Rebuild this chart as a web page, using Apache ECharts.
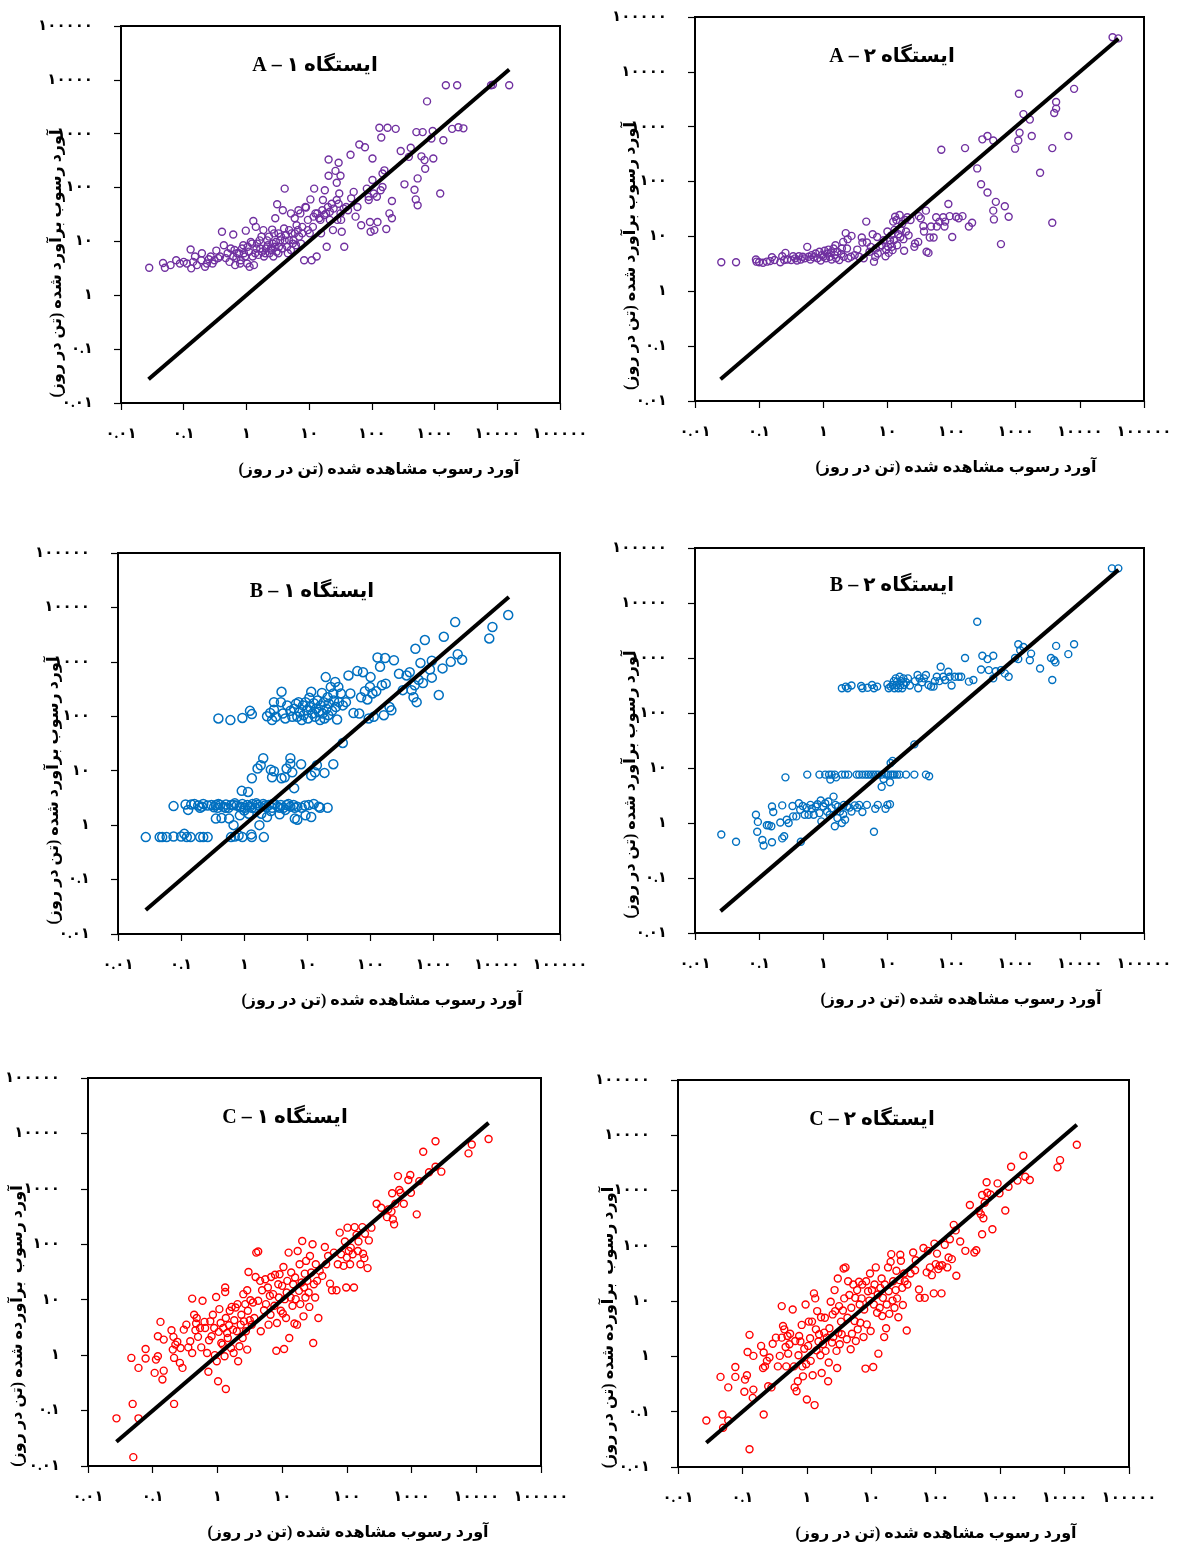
<!DOCTYPE html>
<html>
<head>
<meta charset="utf-8">
<script src="https://cdn.jsdelivr.net/npm/echarts@6/dist/echarts.min.js"></script>
<style>
  body { margin: 0; background: #fff; }
  #chart { width: 1178px; height: 1555px; }
</style>
</head>
<body>
<div id="chart"></div>
<script>
var a1Log = [[-1.55,0.51],[-1.33,0.60],[-1.30,0.51],[-1.21,0.56],[-1.12,0.65],[-1.06,0.59],[-1.00,0.62],[-0.95,0.59],[-0.89,0.85],[-0.88,0.50],[-0.85,0.62],[-0.82,0.72],[-0.79,0.56],[-0.72,0.65],[-0.71,0.78],[-0.66,0.53],[-0.63,0.59],[-0.60,0.67],[-0.57,0.72],[-0.54,0.59],[-0.51,0.65],[-0.48,0.83],[-0.45,0.69],[-0.42,0.72],[-0.39,1.18],[-0.36,0.93],[-0.33,0.69],[-0.30,0.78],[-0.27,0.62],[-0.25,0.87],[-0.21,1.13],[-0.21,0.72],[-0.19,0.84],[-0.18,0.56],[-0.16,0.69],[-0.15,0.78],[-0.12,0.78],[-0.10,0.59],[-0.09,0.65],[-0.07,0.87],[-0.05,0.93],[-0.04,0.78],[-0.02,0.72],[-0.01,1.20],[0.01,0.59],[0.02,0.90],[0.04,0.81],[0.05,0.53],[0.07,0.99],[0.09,0.96],[0.10,0.72],[0.11,1.38],[0.12,0.56],[0.14,0.78],[0.15,1.27],[0.16,0.87],[0.17,0.96],[0.19,0.75],[0.21,1.02],[0.22,0.87],[0.24,1.09],[0.25,0.81],[0.27,1.21],[0.28,0.72],[0.30,0.78],[0.31,0.87],[0.33,1.02],[0.34,0.93],[0.36,1.09],[0.37,0.78],[0.39,0.87],[0.40,0.84],[0.41,1.22],[0.42,0.96],[0.43,0.72],[0.44,1.15],[0.45,0.90],[0.46,1.43],[0.47,0.99],[0.48,0.81],[0.49,1.69],[0.51,1.15],[0.51,0.78],[0.52,0.90],[0.54,1.02],[0.55,1.09],[0.57,0.87],[0.58,1.58],[0.60,1.24],[0.61,1.98],[0.61,1.02],[0.63,1.12],[0.65,0.90],[0.66,0.78],[0.68,1.02],[0.68,1.21],[0.71,1.52],[0.71,0.84],[0.72,1.15],[0.74,0.96],[0.75,1.02],[0.77,1.43],[0.77,1.15],[0.79,0.93],[0.80,1.30],[0.82,1.21],[0.83,1.58],[0.84,1.09],[0.86,1.52],[0.87,0.96],[0.89,1.15],[0.89,1.27],[0.92,0.65],[0.94,1.64],[0.95,1.63],[0.98,1.21],[0.98,1.40],[1.01,1.15],[1.02,1.78],[1.04,0.65],[1.06,1.27],[1.07,1.46],[1.08,1.98],[1.10,1.52],[1.12,0.72],[1.13,1.52],[1.16,1.43],[1.18,1.40],[1.19,1.15],[1.21,1.58],[1.22,1.77],[1.24,1.49],[1.25,1.95],[1.27,1.52],[1.28,0.90],[1.30,1.64],[1.31,2.52],[1.31,2.22],[1.33,1.40],[1.33,1.55],[1.36,1.70],[1.38,1.21],[1.39,1.61],[1.42,2.31],[1.44,2.09],[1.44,1.77],[1.45,1.40],[1.47,1.70],[1.47,2.46],[1.48,1.89],[1.50,2.22],[1.50,1.52],[1.51,1.40],[1.52,1.18],[1.55,1.61],[1.56,0.90],[1.59,1.64],[1.62,1.58],[1.66,2.61],[1.67,1.80],[1.71,1.92],[1.74,1.46],[1.77,1.64],[1.80,2.80],[1.83,1.30],[1.89,2.75],[1.92,1.98],[1.95,1.77],[1.95,1.83],[1.97,1.36],[1.98,1.18],[2.01,2.54],[2.01,2.14],[2.03,1.89],[2.04,1.21],[2.08,1.83],[2.09,1.36],[2.12,3.11],[2.14,1.95],[2.15,2.93],[2.17,2.01],[2.17,2.26],[2.20,2.32],[2.23,1.23],[2.25,3.11],[2.28,1.52],[2.32,1.75],[2.32,1.43],[2.38,3.09],[2.46,2.68],[2.52,2.06],[2.59,2.57],[2.62,2.74],[2.68,1.96],[2.70,1.78],[2.71,3.03],[2.73,2.17],[2.73,1.67],[2.79,2.58],[2.81,3.03],[2.84,2.51],[2.85,2.35],[2.88,3.60],[2.95,2.91],[2.97,3.05],[2.98,2.54],[3.09,1.89],[3.14,2.88],[3.18,3.90],[3.28,3.09],[3.36,3.90],[3.38,3.12],[3.46,3.10],[3.90,3.90],[3.93,3.91],[4.19,3.90]];

var a2Log = [[-1.59,0.53],[-1.36,0.53],[-1.05,0.58],[-1.04,0.54],[-1.00,0.53],[-0.94,0.52],[-0.88,0.54],[-0.83,0.55],[-0.80,0.62],[-0.76,0.57],[-0.67,0.53],[-0.64,0.64],[-0.61,0.57],[-0.59,0.70],[-0.56,0.58],[-0.50,0.57],[-0.47,0.64],[-0.44,0.60],[-0.41,0.56],[-0.38,0.64],[-0.35,0.58],[-0.32,0.63],[-0.29,0.60],[-0.25,0.81],[-0.23,0.63],[-0.20,0.58],[-0.18,0.66],[-0.15,0.62],[-0.12,0.69],[-0.09,0.60],[-0.06,0.72],[-0.04,0.56],[-0.02,0.66],[0.00,0.63],[0.02,0.74],[0.04,0.60],[0.06,0.69],[0.08,0.76],[0.10,0.63],[0.12,0.71],[0.13,0.58],[0.16,0.78],[0.18,0.66],[0.19,0.84],[0.20,0.60],[0.22,0.72],[0.25,0.57],[0.28,0.68],[0.29,0.78],[0.31,0.90],[0.32,0.63],[0.35,1.06],[0.37,0.78],[0.38,0.95],[0.39,0.60],[0.43,0.63],[0.44,1.01],[0.49,0.66],[0.53,0.76],[0.56,0.63],[0.60,0.98],[0.61,0.89],[0.63,0.60],[0.67,1.27],[0.68,0.89],[0.72,0.72],[0.74,0.81],[0.77,1.04],[0.79,0.54],[0.81,0.63],[0.82,0.78],[0.84,0.99],[0.85,0.69],[0.88,0.81],[0.91,0.84],[0.94,0.93],[0.97,0.64],[0.98,0.76],[1.00,1.09],[1.01,0.81],[1.02,0.70],[1.04,0.93],[1.05,0.86],[1.06,1.02],[1.07,0.81],[1.08,0.75],[1.09,1.27],[1.10,0.93],[1.11,1.12],[1.12,1.36],[1.14,1.30],[1.15,0.84],[1.17,1.04],[1.19,1.39],[1.20,0.99],[1.21,1.12],[1.23,1.23],[1.25,0.95],[1.26,0.74],[1.28,1.30],[1.29,1.09],[1.31,1.35],[1.33,1.02],[1.36,1.30],[1.42,0.81],[1.43,0.87],[1.48,0.90],[1.49,1.37],[1.52,1.33],[1.56,1.19],[1.57,1.09],[1.60,1.47],[1.61,0.72],[1.64,0.70],[1.66,0.98],[1.68,1.18],[1.72,0.98],[1.76,1.35],[1.77,1.18],[1.81,1.27],[1.84,2.58],[1.87,1.35],[1.89,1.18],[1.90,1.27],[1.95,1.59],[1.97,1.37],[2.01,0.99],[2.07,1.36],[2.11,1.33],[2.17,1.37],[2.21,2.61],[2.27,1.18],[2.32,1.25],[2.40,2.24],[2.46,1.95],[2.48,2.77],[2.56,2.83],[2.56,1.80],[2.65,1.47],[2.65,2.75],[2.66,1.31],[2.69,1.63],[2.77,0.86],[2.83,1.55],[2.89,1.36],[2.99,2.60],[3.04,2.75],[3.06,2.89],[3.05,3.60],[3.12,3.23],[3.22,3.13],[3.25,2.83],[3.38,2.16],[3.57,2.61],[3.57,1.25],[3.60,3.25],[3.63,3.33],[3.63,3.45],[3.82,2.83],[3.91,3.69],[4.51,4.63],[4.60,4.61]];

var b1Log = [[-1.56,-0.22],[-1.34,-0.22],[-1.30,-0.22],[-1.23,-0.22],[-1.12,-0.21],[-1.00,-0.21],[-0.95,-0.16],[-0.91,-0.22],[-0.85,-0.22],[-0.70,-0.22],[-0.65,-0.22],[-0.58,-0.22],[-0.21,-0.22],[-0.15,-0.21],[-0.09,-0.19],[-0.03,-0.22],[0.11,-0.17],[0.12,-0.22],[0.31,-0.22],
[-1.12,0.35],[-0.93,0.38],[-0.89,0.28],[-0.84,0.38],[-0.79,0.39],[-0.73,0.36],[-0.70,0.32],[-0.67,0.34],[-0.65,0.39],[-0.58,0.36],[-0.52,0.37],[-0.48,0.33],[-0.45,0.37],[-0.42,0.32],[-0.41,0.39],[-0.38,0.37],[-0.33,0.34],[-0.30,0.32],[-0.29,0.38],[-0.25,0.32],[-0.21,0.37],[-0.17,0.37],[-0.15,0.40],[-0.12,0.36],[-0.07,0.33],[-0.05,0.34],[-0.03,0.39],[0.01,0.32],[0.05,0.37],[0.09,0.34],[0.12,0.32],[0.13,0.39],[0.17,0.32],[0.19,0.40],[0.21,0.37],[0.25,0.34],[0.30,0.39],[0.33,0.36],[0.35,0.33],[0.39,0.37],[0.44,0.32],[0.45,0.39],[0.48,0.39],[0.53,0.34],[0.56,0.32],[0.58,0.37],[0.62,0.32],[0.67,0.37],[0.70,0.39],[0.73,0.34],[0.78,0.37],[0.80,0.32],[0.84,0.34],[0.91,0.32],[0.96,0.36],[1.02,0.37],[1.10,0.39],[1.18,0.34],[1.32,0.32],
[-0.45,0.12],[-0.36,0.13],[-0.24,0.12],[-0.17,0.00],[-0.07,0.18],[0.00,0.27],[0.07,0.21],[0.24,0.00],[0.27,0.21],[0.36,0.15],[0.42,0.26],[0.56,0.20],[0.65,0.28],[0.80,0.12],[0.84,0.10],[0.97,0.18],[1.06,0.15],[1.20,0.32],
[-0.04,0.63],[0.06,0.61],[0.12,0.86],[0.21,1.04],[0.26,1.10],[0.30,1.23],[0.42,1.02],[0.44,0.88],[0.47,0.99],[0.59,0.86],[0.64,0.88],[0.67,1.04],[0.73,1.23],[0.73,1.13],[0.76,0.97],[0.79,0.68],[0.90,1.12],[1.06,0.91],[1.12,0.97],[1.15,1.10],[1.27,0.96],[1.41,1.12],[1.56,1.51],
[-0.41,1.96],[-0.22,1.93],[-0.03,1.97],[0.09,2.10],[0.12,2.04],[0.36,2.00],[0.41,2.06],[0.44,1.93],[0.47,2.26],[0.47,2.12],[0.50,1.99],[0.58,2.26],[0.59,2.45],[0.61,2.05],[0.65,1.96],[0.68,2.20],[0.73,2.10],[0.76,1.99],[0.79,2.14],[0.82,2.23],[0.84,1.99],[0.86,2.26],[0.88,2.08],[0.91,1.93],[0.93,2.20],[0.94,2.02],[0.97,2.26],[0.99,2.11],[1.01,1.96],[1.03,2.34],[1.04,2.17],[1.06,2.45],[1.08,2.05],[1.10,2.24],[1.12,1.99],[1.14,2.14],[1.16,2.29],[1.18,2.08],[1.20,1.93],[1.21,2.20],[1.23,2.43],[1.24,2.05],[1.26,2.26],[1.27,1.96],[1.29,2.72],[1.30,2.14],[1.32,2.35],[1.33,2.02],[1.34,2.23],[1.37,2.54],[1.39,2.10],[1.41,2.42],[1.42,2.29],[1.44,2.63],[1.45,2.17],[1.47,1.94],[1.49,2.54],[1.50,2.26],[1.53,2.42],[1.56,2.20],[1.61,2.26],[1.65,2.75],[1.68,2.42],[1.73,2.06],[1.79,2.83],[1.82,2.05],[1.85,2.35],[1.88,2.81],[1.91,2.46],[1.95,2.31],[1.97,1.96],[1.99,2.54],[2.00,2.72],[2.03,2.42],[2.05,1.99],[2.09,2.46],[2.11,3.08],[2.15,2.91],[2.18,2.57],[2.21,2.02],[2.23,3.07],[2.24,2.60],[2.30,2.17],[2.33,2.11],[2.37,3.03],[2.45,2.78],[2.51,2.48],[2.57,2.75],[2.62,2.81],[2.65,2.48],[2.68,2.35],[2.70,2.57],[2.71,3.24],[2.73,2.26],[2.76,2.67],[2.79,2.98],[2.83,2.61],[2.86,3.40],[2.94,2.86],[2.97,2.71],[2.97,3.02],[3.08,2.39],[3.14,2.88],[3.16,3.46],[3.27,3.00],[3.34,3.73],[3.38,3.14],[3.45,3.04],[3.88,3.43],[3.93,3.64],[4.18,3.86]];

var b2Log = [[0.29,2.45],[0.35,2.48],[0.38,2.45],[0.44,2.50],[0.59,2.49],[0.61,2.45],[0.69,2.46],[0.76,2.51],[0.79,2.45],[0.84,2.48],[1.00,2.52],[1.02,2.45],[1.05,2.48],[1.08,2.51],[1.10,2.58],[1.11,2.45],[1.13,2.63],[1.14,2.51],[1.15,2.57],[1.17,2.45],[1.19,2.66],[1.20,2.51],[1.21,2.58],[1.23,2.45],[1.25,2.63],[1.26,2.51],[1.29,2.56],[1.32,2.63],[1.35,2.50],[1.43,2.58],[1.47,2.69],[1.48,2.45],[1.50,2.63],[1.54,2.56],[1.57,2.63],[1.60,2.69],[1.64,2.51],[1.68,2.48],[1.72,2.48],[1.74,2.58],[1.77,2.66],[1.81,2.58],[1.83,2.84],[1.87,2.66],[1.90,2.60],[1.95,2.75],[1.97,2.66],[2.00,2.50],[2.05,2.66],[2.11,2.66],[2.15,2.66],[2.21,3.00],[2.27,2.57],[2.34,2.60],[2.40,3.66],[2.46,2.79],[2.48,3.04],[2.56,2.98],[2.58,2.78],[2.65,3.04],[2.65,2.63],[2.69,2.76],[2.77,2.78],[2.83,2.72],[2.89,2.66],[2.99,3.00],[3.04,2.98],[3.04,3.25],[3.07,3.14],[3.12,3.20],[3.22,2.96],[3.24,3.08],[3.38,2.81],[3.55,3.00],[3.57,2.60],[3.60,2.96],[3.62,2.92],[3.63,3.22],[3.82,3.07],[3.91,3.25],[4.50,4.63],[4.60,4.63],
[-0.59,0.83],[-0.25,0.88],[-0.06,0.88],[0.03,0.88],[0.09,0.88],[0.11,0.79],[0.13,0.88],[0.18,0.88],[0.20,0.83],[0.29,0.88],[0.34,0.88],[0.39,0.88],[0.52,0.88],[0.56,0.88],[0.61,0.88],[0.66,0.88],[0.70,0.88],[0.74,0.88],[0.78,0.88],[0.82,0.88],[0.86,0.88],[0.91,0.88],[0.94,0.80],[0.98,0.88],[1.01,0.88],[1.04,0.74],[1.05,0.88],[1.08,0.88],[1.11,0.88],[1.15,0.88],[1.19,0.88],[1.29,0.88],[1.42,0.88],[1.60,0.88],[1.65,0.85],[0.91,0.66],[1.05,1.09],[1.08,1.13],[1.42,1.43],
[-1.59,-0.21],[-1.36,-0.34],[-1.05,0.15],[-1.02,0.02],[-1.03,-0.16],[-0.95,-0.31],[-0.93,-0.41],[-0.88,-0.04],[-0.85,-0.04],[-0.81,-0.06],[-0.80,0.30],[-0.78,0.20],[-0.80,-0.35],[-0.67,0.01],[-0.64,0.32],[-0.64,-0.28],[-0.61,-0.24],[-0.57,0.06],[-0.54,0.00],[-0.48,0.31],[-0.47,0.12],[-0.42,0.12],[-0.38,0.36],[-0.36,0.24],[-0.35,-0.34],[-0.32,0.31],[-0.29,0.15],[-0.26,0.28],[-0.23,0.15],[-0.20,0.33],[-0.18,0.26],[-0.15,0.15],[-0.12,0.30],[-0.09,0.34],[-0.06,0.18],[-0.04,0.41],[-0.03,0.03],[0.00,0.30],[0.03,0.36],[0.06,0.21],[0.08,0.39],[0.10,0.15],[0.13,0.27],[0.16,0.48],[0.18,-0.06],[0.19,0.33],[0.22,0.09],[0.23,0.30],[0.26,0.21],[0.29,0.00],[0.31,0.16],[0.32,0.33],[0.34,0.06],[0.37,0.30],[0.41,0.28],[0.44,0.21],[0.49,0.32],[0.53,0.28],[0.56,0.33],[0.61,0.20],[0.68,0.33],[0.79,-0.16],[0.81,0.26],[0.85,0.33],[0.97,0.26],[1.00,0.33],[1.04,0.34]];

var c1Log = [[-1.56,-1.14],[-1.33,-0.05],[-1.31,-0.88],[-1.30,-1.84],[-1.22,-0.23],[-1.22,-1.14],[-1.11,0.11],[-1.11,-0.06],[-0.97,-0.32],[-0.95,-0.08],[-0.92,-0.02],[-0.92,0.34],[-0.88,0.60],[-0.85,-0.44],[-0.83,-0.28],[-0.83,0.28],[-0.71,0.45],[-0.69,0.10],[-0.68,0.33],[-0.67,-0.05],[-0.67,-0.88],[-0.65,0.19],[-0.62,0.24],[-0.58,-0.14],[-0.57,0.13],[-0.54,-0.23],[-0.52,0.46],[-0.48,0.55],[-0.45,0.14],[-0.42,0.25],[-0.39,1.02],[-0.39,0.04],[-0.36,0.73],[-0.34,0.45],[-0.33,0.57],[-0.32,0.67],[-0.30,0.33],[-0.27,0.49],[-0.25,0.14],[-0.23,0.98],[-0.20,0.60],[-0.19,0.49],[-0.16,0.04],[-0.14,-0.30],[-0.13,0.27],[-0.11,0.61],[-0.09,0.34],[-0.07,0.73],[-0.05,0.49],[-0.04,0.00],[-0.02,1.05],[-0.01,-0.11],[0.01,-0.47],[0.02,0.42],[0.03,0.83],[0.05,0.58],[0.06,0.22],[0.08,0.19],[0.09,0.49],[0.11,-0.02],[0.12,1.22],[0.12,1.14],[0.13,-0.61],[0.13,0.67],[0.15,0.40],[0.16,0.31],[0.18,0.54],[0.19,0.80],[0.21,0.13],[0.22,0.87],[0.24,0.46],[0.25,0.04],[0.26,0.63],[0.28,0.86],[0.30,0.43],[0.31,0.92],[0.32,-0.11],[0.34,0.16],[0.36,0.55],[0.37,0.73],[0.39,0.31],[0.40,1.10],[0.41,0.61],[0.43,0.92],[0.44,0.43],[0.46,1.17],[0.46,0.10],[0.47,0.80],[0.48,1.50],[0.50,0.63],[0.51,0.99],[0.53,0.55],[0.55,0.95],[0.57,0.67],[0.59,1.41],[0.60,1.85],[0.63,1.87],[0.63,0.98],[0.66,1.34],[0.67,0.43],[0.69,1.17],[0.72,0.81],[0.74,1.37],[0.75,0.92],[0.78,1.22],[0.79,0.55],[0.81,1.07],[0.82,0.73],[0.83,1.41],[0.86,1.10],[0.88,0.89],[0.89,1.45],[0.91,0.08],[0.92,0.58],[0.94,1.28],[0.95,1.04],[0.96,1.46],[0.98,0.80],[1.00,1.25],[1.01,0.75],[1.02,1.59],[1.03,0.11],[1.04,1.01],[1.06,0.67],[1.07,1.13],[1.08,1.34],[1.10,1.85],[1.11,0.31],[1.13,1.04],[1.14,1.49],[1.16,0.89],[1.17,1.28],[1.19,0.57],[1.20,1.40],[1.21,1.01],[1.23,0.55],[1.24,1.88],[1.26,1.16],[1.27,1.64],[1.28,0.92],[1.30,1.31],[1.31,2.06],[1.33,0.70],[1.34,1.22],[1.35,1.47],[1.36,1.04],[1.37,1.70],[1.39,1.34],[1.41,1.13],[1.42,0.87],[1.43,1.79],[1.45,1.49],[1.47,2.00],[1.48,0.22],[1.49,1.28],[1.51,1.04],[1.52,1.64],[1.54,1.34],[1.56,0.67],[1.58,1.52],[1.62,1.43],[1.66,1.95],[1.68,1.64],[1.71,1.79],[1.74,1.29],[1.77,1.17],[1.80,1.85],[1.84,1.17],[1.86,1.64],[1.89,2.21],[1.91,1.82],[1.95,1.61],[1.97,2.05],[1.99,1.22],[2.00,1.76],[2.01,2.30],[2.03,1.88],[2.05,1.64],[2.06,1.94],[2.09,1.82],[2.11,1.22],[2.12,2.31],[2.15,2.17],[2.17,1.88],[2.18,2.05],[2.21,1.64],[2.24,2.31],[2.25,1.83],[2.27,1.75],[2.28,2.19],[2.32,1.57],[2.34,2.07],[2.38,2.30],[2.46,2.73],[2.53,2.66],[2.62,2.49],[2.64,2.63],[2.69,2.59],[2.70,2.92],[2.71,2.45],[2.73,2.36],[2.75,2.73],[2.79,3.23],[2.81,2.98],[2.83,2.93],[2.88,2.73],[2.95,3.16],[2.98,3.25],[2.99,2.93],[3.08,2.54],[3.12,3.14],[3.18,3.67],[3.27,3.30],[3.37,3.40],[3.37,3.86],[3.46,3.31],[3.88,3.64],[3.93,3.80],[4.19,3.90]];

var c2Log = [[-1.56,-1.16],[-1.34,-0.37],[-1.31,-1.05],[-1.30,-1.29],[-1.22,-0.56],[-1.22,-1.16],[-1.11,-0.19],[-1.11,-0.37],[-0.97,-0.64],[-0.96,-0.42],[-0.93,-0.34],[-0.92,0.08],[-0.89,0.39],[-0.89,-1.68],[-0.84,-0.75],[-0.83,-0.60],[-0.83,0.01],[-0.71,0.19],[-0.68,-0.21],[-0.67,0.07],[-0.67,-1.05],[-0.65,-0.18],[-0.62,-0.08],[-0.60,-0.54],[-0.58,-0.02],[-0.55,-0.56],[-0.53,0.23],[-0.48,0.34],[-0.45,-0.18],[-0.42,0.01],[-0.39,0.91],[-0.39,0.34],[-0.37,0.55],[-0.35,0.49],[-0.33,0.17],[-0.32,-0.18],[-0.30,0.37],[-0.29,0.05],[-0.27,0.22],[-0.26,0.41],[-0.22,0.85],[-0.20,-0.18],[-0.19,-0.56],[-0.18,0.28],[-0.16,-0.63],[-0.14,-0.45],[-0.13,0.02],[-0.12,0.37],[-0.10,0.27],[-0.08,0.57],[-0.07,-0.18],[-0.06,-0.36],[-0.04,0.14],[-0.02,0.94],[-0.01,-0.14],[0.00,-0.78],[0.02,0.19],[0.03,0.63],[0.05,0.33],[0.06,-0.08],[0.08,0.63],[0.09,-0.34],[0.11,1.14],[0.12,-0.88],[0.13,1.05],[0.14,0.49],[0.15,0.11],[0.16,0.82],[0.18,0.27],[0.19,0.40],[0.21,0.02],[0.22,0.71],[0.23,-0.30],[0.25,0.22],[0.27,0.43],[0.28,0.70],[0.29,0.10],[0.31,0.34],[0.33,-0.45],[0.34,-0.11],[0.35,0.51],[0.37,0.99],[0.39,0.25],[0.40,0.76],[0.41,0.35],[0.43,1.20],[0.44,0.82],[0.46,0.10],[0.47,-0.21],[0.48,1.41],[0.49,0.43],[0.50,0.91],[0.51,0.22],[0.53,0.63],[0.54,0.40],[0.56,0.83],[0.57,1.59],[0.58,1.05],[0.60,1.61],[0.62,0.31],[0.63,0.70],[0.64,1.36],[0.66,1.11],[0.68,0.13],[0.69,0.88],[0.70,0.41],[0.72,1.30],[0.74,0.64],[0.75,1.06],[0.76,0.28],[0.78,1.20],[0.79,0.49],[0.81,1.35],[0.82,0.94],[0.83,0.61],[0.85,1.05],[0.86,1.30],[0.88,0.35],[0.89,0.85],[0.91,-0.22],[0.92,1.36],[0.93,0.58],[0.95,1.18],[0.97,1.01],[0.98,1.50],[0.99,0.46],[1.01,1.20],[1.03,-0.19],[1.04,0.94],[1.05,1.30],[1.07,1.61],[1.09,0.79],[1.10,1.12],[1.11,0.05],[1.13,0.88],[1.14,1.24],[1.16,1.41],[1.17,0.73],[1.18,1.06],[1.20,0.35],[1.21,1.30],[1.23,0.51],[1.24,0.94],[1.26,1.61],[1.27,1.18],[1.28,0.77],[1.30,1.71],[1.31,1.85],[1.33,1.01],[1.34,1.36],[1.36,0.88],[1.38,1.20],[1.39,1.55],[1.40,1.05],[1.42,0.71],[1.44,1.38],[1.45,1.84],[1.46,1.73],[1.48,1.24],[1.49,0.93],[1.51,1.50],[1.52,1.36],[1.55,0.47],[1.56,1.30],[1.61,1.50],[1.65,1.88],[1.68,1.56],[1.69,1.74],[1.74,1.21],[1.75,1.06],[1.81,1.96],[1.83,1.06],[1.86,1.52],[1.88,1.91],[1.91,1.61],[1.94,1.47],[1.97,1.14],[1.98,2.04],[2.00,1.67],[2.02,1.86],[2.04,1.58],[2.06,1.64],[2.09,1.14],[2.10,1.65],[2.14,2.02],[2.18,1.61],[2.20,1.79],[2.22,2.12],[2.25,1.76],[2.28,2.38],[2.31,2.28],[2.32,1.46],[2.38,2.08],[2.46,1.91],[2.53,2.74],[2.60,1.88],[2.63,1.92],[2.67,2.63],[2.70,2.57],[2.72,2.21],[2.72,2.92],[2.74,2.50],[2.76,2.78],[2.79,3.15],[2.80,2.96],[2.85,2.93],[2.88,2.30],[2.96,3.13],[2.99,2.95],[3.08,2.64],[3.13,3.07],[3.17,3.43],[3.27,3.18],[3.36,3.63],[3.39,3.25],[3.46,3.19],[3.89,3.42],[3.93,3.55],[4.19,3.83]];

// 1:1 line ends (t/day)
var lineShort = [0.0275, 15500];
var lineLong = [0.025, 40000];

var tickText = ['۰.۰۱', '۰.۱', '۱', '۱۰', '۱۰۰', '۱۰۰۰', '۱۰۰۰۰', '۱۰۰۰۰۰'];
var titles = ['ایستگاه ۱ – A', 'ایستگاه ۲ – A', 'ایستگاه ۱ – B', 'ایستگاه ۲ – B', 'ایستگاه ۱ – C', 'ایستگاه ۲ – C'];
var xName = 'آورد رسوب مشاهده شده (تن در روز)';
var yNameAB = 'آورد رسوب برآورد شده (تن در روز)';
var yNameC = 'آورد رسوب  برآورده شده (تن در روز)';

var FONT = "'Liberation Serif', 'DejaVu Sans', serif";
function rtl(s) { return '\u202B' + s + '\u202C'; }

var panels = [
  { grid: [121, 26, 439, 377], data: a1Log, color: '#7030A0', size: 7, bw: 1.4, line: lineShort, tx: 315, ty: 66, yName: yNameAB, xs: 77, ys: 98, yGap: 56 },
  { grid: [695, 17, 449, 384], data: a2Log, color: '#7030A0', size: 7, bw: 1.4, line: lineLong, tx: 892, ty: 57, yName: yNameAB, xs: 73, ys: 94, yGap: 56 },
  { grid: [118, 553, 442, 381], data: b1Log, color: '#0070C0', size: 9, bw: 1.5, line: lineShort, tx: 312, ty: 592, yName: yNameAB, xs: 86, ys: 94, yGap: 56 },
  { grid: [695, 548, 449, 385], data: b2Log, color: '#0070C0', size: 7, bw: 1.4, line: lineLong, tx: 892, ty: 586, yName: yNameAB, xs: 83, ys: 88, yGap: 56 },
  { grid: [88, 1078, 453, 388], data: c1Log, color: '#FF0000', size: 7, bw: 1.4, line: lineShort, tx: 285, ty: 1118, yName: yNameC, xs: 67, ys: 108, yGap: 62 },
  { grid: [678, 1080, 451, 387], data: c2Log, color: '#FF0000', size: 7, bw: 1.4, line: lineShort, tx: 872, ty: 1120, yName: yNameC, xs: 65, ys: 108, yGap: 61 }
];

function tickLabel(v) {
  return tickText[Math.round(Math.log10(v)) + 2] || '';
}

var labelStyle = { color: '#000', fontWeight: 'bold', fontSize: 15, fontFamily: FONT };
var nameStyle = { color: '#000', fontWeight: 'bold', fontSize: 16, fontFamily: FONT };

var option = {
  animation: false,
  grid: panels.map(function (p) {
    return { left: p.grid[0], top: p.grid[1], width: p.grid[2], height: p.grid[3],
      show: true, borderColor: '#000', borderWidth: 2, containLabel: false, outerBoundsMode: 'none' };
  }),
  xAxis: panels.map(function (p, i) {
    return {
      gridIndex: i, type: 'log', logBase: 10, min: 0.01, max: 100000, splitNumber: 7,
      axisLine: { show: true, lineStyle: { color: '#000', width: 2 } },
      axisTick: { show: true, length: 7, lineStyle: { color: '#000', width: 1.2 } },
      minorTick: { show: false }, splitLine: { show: false },
      axisLabel: Object.assign({ margin: 24, formatter: tickLabel, showMinLabel: true, showMaxLabel: true, hideOverlap: false }, labelStyle),
      name: rtl(xName), nameLocation: 'middle', nameGap: 59, nameMoveOverlap: false,
      nameTextStyle: Object.assign({ padding: [0, 0, 0, p.xs] }, nameStyle)
    };
  }),
  yAxis: panels.map(function (p, i) {
    return {
      gridIndex: i, type: 'log', logBase: 10, min: 0.01, max: 100000, splitNumber: 7,
      axisLine: { show: true, lineStyle: { color: '#000', width: 2 } },
      axisTick: { show: true, length: 7, lineStyle: { color: '#000', width: 1.2 } },
      minorTick: { show: false }, splitLine: { show: false },
      axisLabel: Object.assign({ margin: 28, padding: [0, 0, 14, 0], formatter: tickLabel, showMinLabel: true, showMaxLabel: true, hideOverlap: false }, labelStyle),
      name: rtl(p.yName), nameLocation: 'middle', nameRotate: 90, nameGap: p.yGap, nameMoveOverlap: false,
      nameTextStyle: Object.assign({ padding: [0, p.ys, 0, 0] }, nameStyle)
    };
  }),
  series: [],
  graphic: panels.map(function (p, i) {
    return {
      type: 'text', x: p.tx, y: p.ty, z: 10,
      style: { text: rtl(titles[i]), font: 'bold 20px ' + FONT, fill: '#000',
        align: 'center', verticalAlign: 'middle', textAlign: 'center', textVerticalAlign: 'middle' }
    };
  })
};

panels.forEach(function (p, i) {
  option.series.push({
    type: 'scatter', xAxisIndex: i, yAxisIndex: i, z: 2,
    symbol: 'circle', symbolSize: p.size,
    itemStyle: { color: 'rgba(0,0,0,0)', borderColor: p.color, borderWidth: p.bw, opacity: 1 },
    data: p.data.map(function (d) { return [Math.pow(10, d[0]), Math.pow(10, d[1])]; })
  });
  option.series.push({
    type: 'line', xAxisIndex: i, yAxisIndex: i, z: 3, symbol: 'none',
    lineStyle: { color: '#000', width: 4 },
    data: [[p.line[0], p.line[0]], [p.line[1], p.line[1]]]
  });
});

var chart = echarts.init(document.getElementById('chart'));
chart.setOption(option);
window.addEventListener('resize', function () { chart.resize(); });
</script>
</body>
</html>
